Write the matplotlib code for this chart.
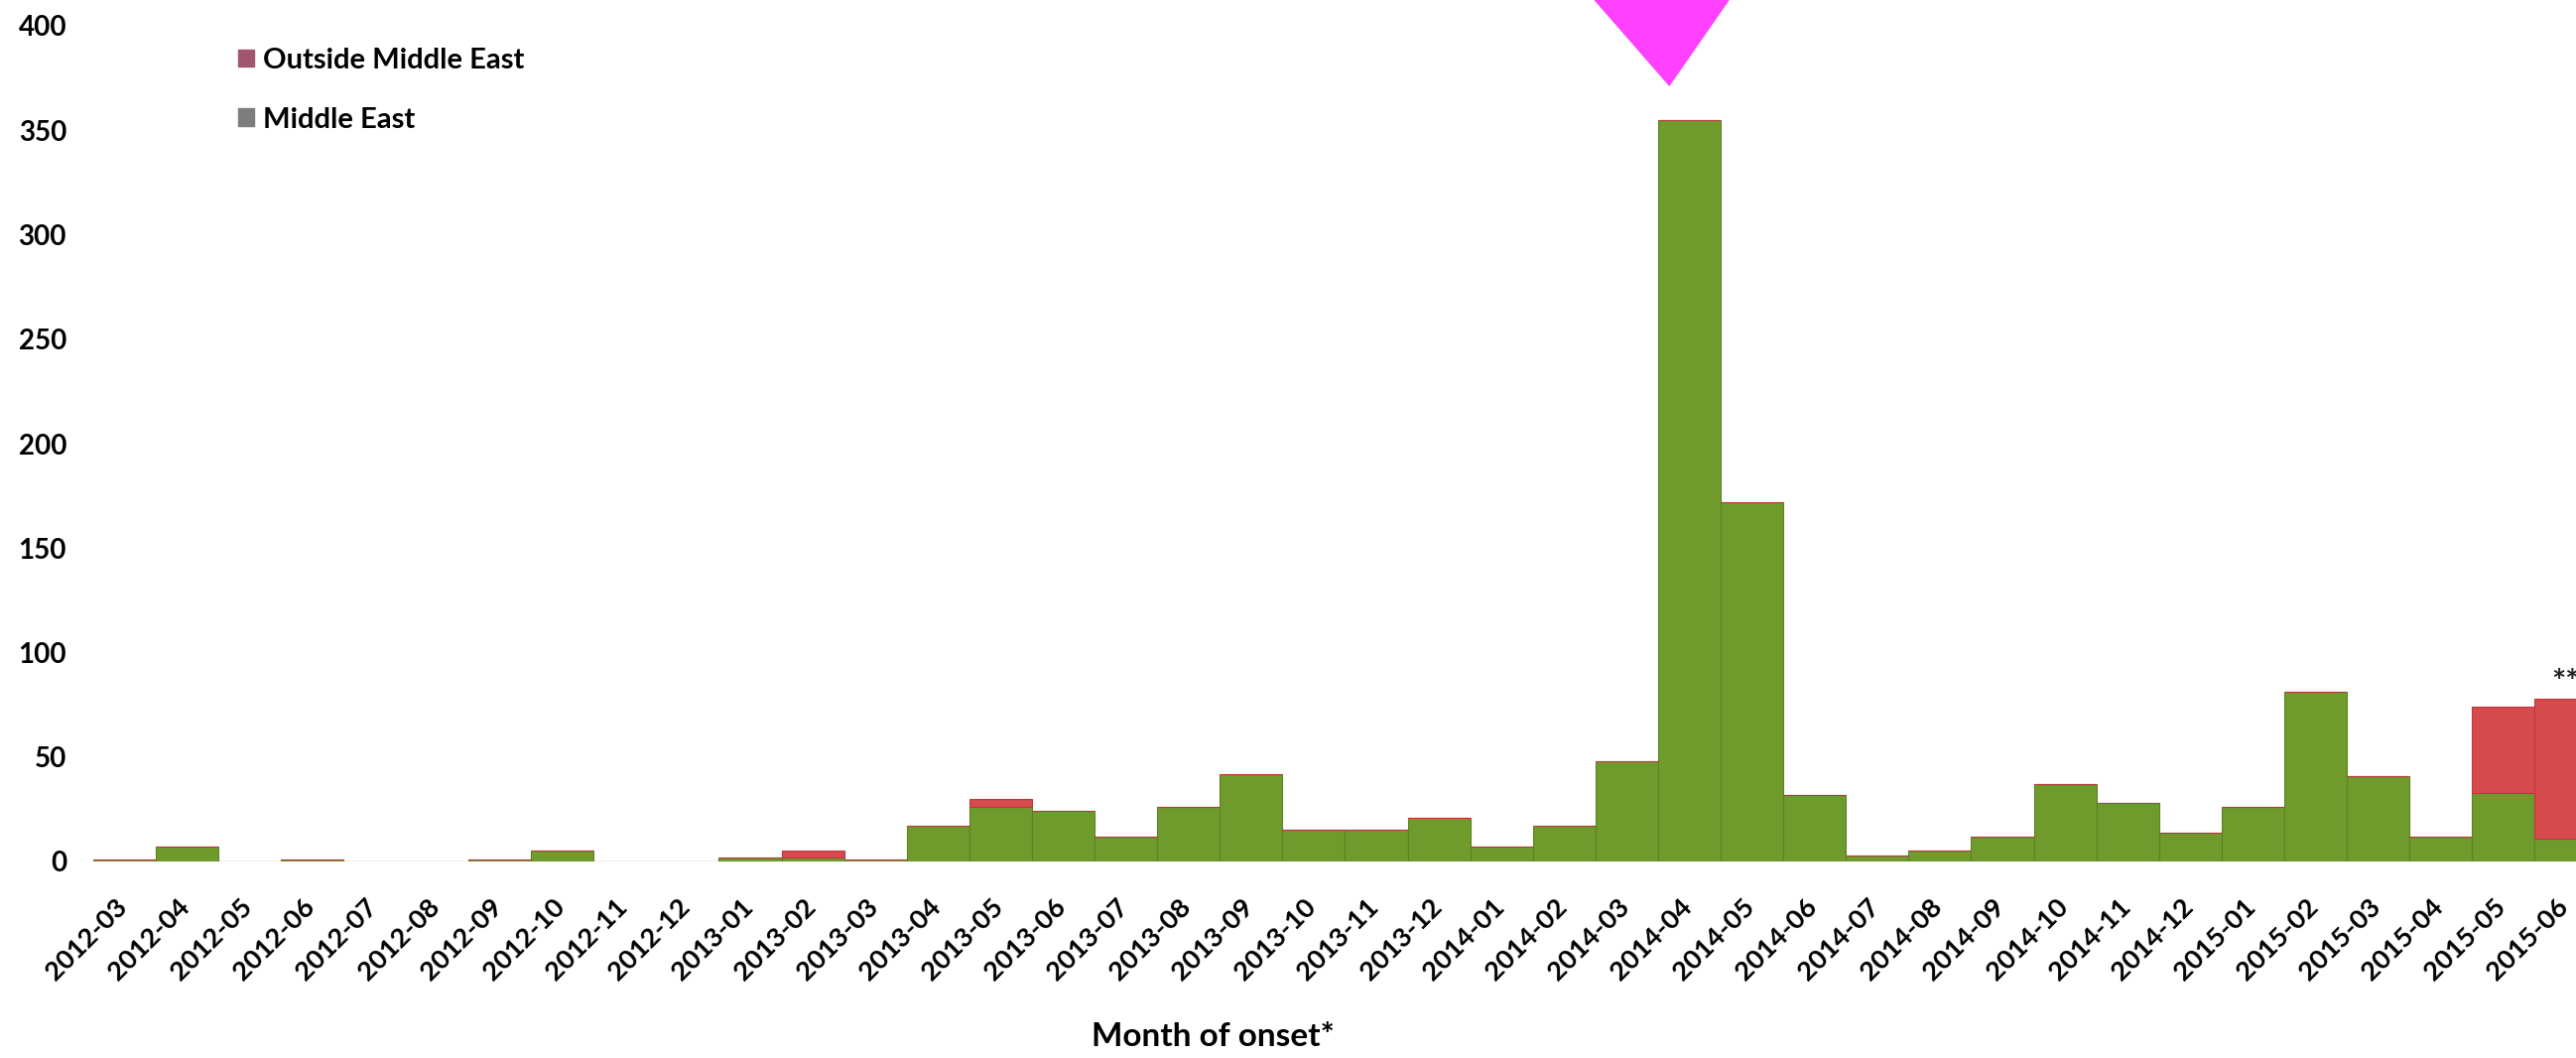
import numpy as np
import matplotlib
matplotlib.use("Agg")
import matplotlib.pyplot as plt
from matplotlib import patches
from matplotlib.transforms import ScaledTranslation

plt.rcParams['font.family'] = ['Lato', 'DejaVu Sans']

# Month of onset categories
months = [
    '2012-03', '2012-04', '2012-05', '2012-06', '2012-07', '2012-08', '2012-09', '2012-10',
    '2012-11', '2012-12', '2013-01', '2013-02', '2013-03', '2013-04', '2013-05', '2013-06',
    '2013-07', '2013-08', '2013-09', '2013-10', '2013-11', '2013-12', '2014-01', '2014-02',
    '2014-03', '2014-04', '2014-05', '2014-06', '2014-07', '2014-08', '2014-09', '2014-10',
    '2014-11', '2014-12', '2015-01', '2015-02', '2015-03', '2015-04', '2015-05', '2015-06',
]
# cases per month
middle_east = [1, 7, 0, 1, 0, 0, 1, 5, 0, 0, 2, 2, 1, 17, 26, 24, 12, 26, 42, 15,
               15, 21, 7, 17, 48, 355, 172, 32, 3, 5, 12, 37, 28, 14, 26, 81, 41, 12, 33, 11]
outside_me = [0, 0, 0, 0, 0, 0, 0, 0, 0, 0, 0, 3, 0, 0, 4, 0, 0, 0, 0, 0,
              0, 0, 0, 0, 0, 0, 0, 0, 0, 0, 0, 0, 0, 0, 0, 0, 0, 0, 41, 67]
y_ticks = [0, 50, 100, 150, 200, 250, 300, 350, 400]

green = '#6f9a2c'
red = '#d64a4e'

W, H = 2596, 1066
fig = plt.figure(figsize=(W / 100, H / 100), dpi=100)
ax = fig.add_axes([93.5 / W, 1 - 868 / H, (W - 93.5) / W, (868 - 26) / H])

x = np.arange(len(months))
me = np.array(middle_east)
out = np.array(outside_me)
ax.bar(x, me, width=1.0, color=green, edgecolor='#5d8224', linewidth=0.8)
ax.bar(x, out, width=1.0, bottom=me, color=red, edgecolor='#b83a3e', linewidth=0.8)

ax.set_xlim(-0.5, 39.16)
ax.set_ylim(0, 400)
ax.set_yticks(y_ticks)
ax.set_yticklabels([str(v) for v in y_ticks], fontsize=20, fontweight='bold')
ax.set_xticks(x)
ax.set_xticklabels(months, rotation=45, ha='right', rotation_mode='anchor',
                   fontsize=19.5, fontweight='bold')
ax.tick_params(axis='y', length=0, pad=19)
ax.tick_params(axis='x', length=0, pad=24)
# nudge labels a little left so the last one stays inside the picture
shift = ScaledTranslation(-10 / 100, 0, fig.dpi_scale_trans)
for lbl in ax.get_xticklabels():
    lbl.set_transform(lbl.get_transform() + shift)
for s in ax.spines.values():
    s.set_visible(False)

ax.set_xlabel('Month of onset*', fontsize=24, fontweight='bold')
ax.xaxis.set_label_coords((1222 - 93.5) / (W - 93.5), -(1045 - 868) / (868 - 26))
ax.xaxis.label.set_va('center')

# legend with the muted swatches seen in the source
handles = [patches.Patch(color='#a2566e'), patches.Patch(color='#7d7d7d')]
ax.legend(handles, ['Outside Middle East', 'Middle East'], loc='upper left',
          bbox_to_anchor=((240 - 93.5) / (W - 93.5), 1 - (48 - 26) / (868 - 26)),
          frameon=False, prop={'weight': 'bold', 'size': 21},
          handlelength=0.55, handleheight=0.55, handletextpad=0.3,
          labelspacing=1.15, borderaxespad=0, borderpad=0)

# ** note over the last month
ax.text(x[-1], me[-1] + out[-1] + 0.5, '**', ha='center', va='bottom',
        fontsize=24, fontweight='bold', color='#222222', clip_on=False)

# magenta pointer over the peak month
peak = int(np.argmax(me + out))
top = me[peak] + out[peak]
tri = patches.Polygon([[peak - 1.6, top + 60], [peak + 0.7, top + 60], [peak - 0.32, top + 16]],
                      closed=True, facecolor='#ff40ff', edgecolor='none', clip_on=False)
ax.add_patch(tri)

fig.savefig('out.png', dpi=100)
